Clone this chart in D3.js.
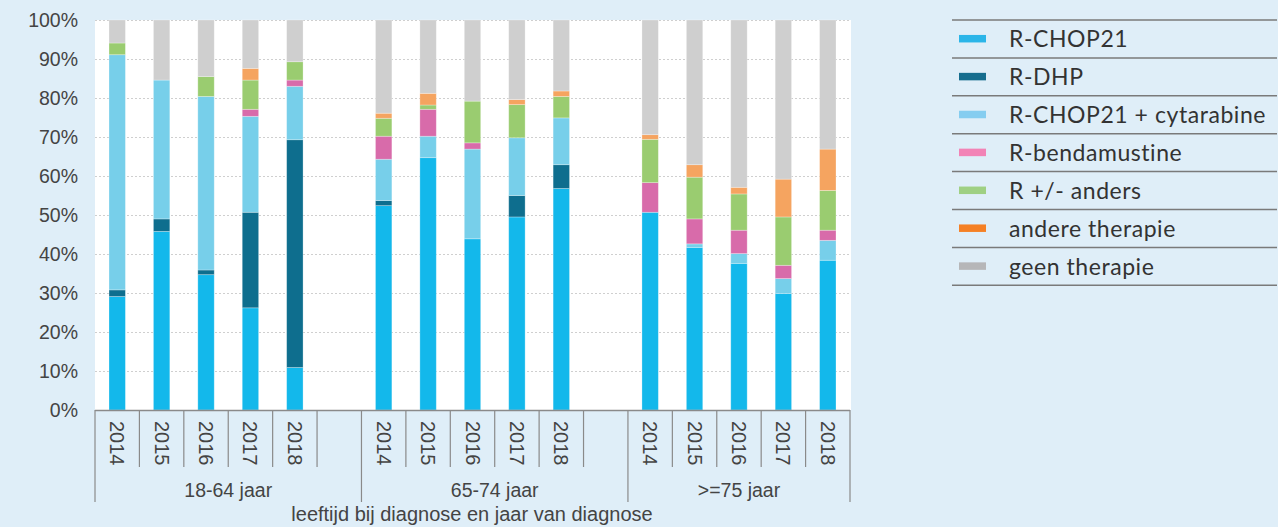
<!DOCTYPE html>
<html>
<head>
<meta charset="utf-8">
<script src="https://cdn.jsdelivr.net/npm/d3@7"></script>
<style>
  html, body { margin: 0; padding: 0; background: #dfeef8; }
  svg { display: block; }
</style>
</head>
<body>
<svg id="chart" width="1278" height="527"></svg>
<script>
// Age groups and diagnosis years
const groups = ["18-64 jaar", "65-74 jaar", ">=75 jaar"];
const years = ["2014", "2015", "2016", "2017", "2018"];

// Treatment categories (stack order, bottom to top)
const treatments = ["R-CHOP21", "R-DHP", "R-CHOP21 + cytarabine", "R-bendamustine", "R +/- anders", "andere therapie", "geen therapie"];

// Percentages per bar: 18-64 (2014-2018), 65-74 (2014-2018), >=75 (2014-2018)
const rChop21      = [29.1, 45.8, 34.7, 26.2, 10.9,  52.4, 64.7, 43.9, 49.5, 56.8,  50.7, 41.7, 37.6, 29.9, 38.4];
const rDhp         = [ 1.7,  3.2,  1.2, 24.5, 58.4,   1.3,  0.0,  0.0,  5.5,  6.1,   0.0,  0.0,  0.0,  0.0,  0.0];
const rChopCytara  = [60.3, 35.6, 44.5, 24.6, 13.7,  10.6,  5.5, 23.0, 14.8, 12.0,   0.0,  0.9,  2.5,  3.8,  5.1];
const rBendamust   = [ 0.0,  0.0,  0.0,  1.8,  1.6,   5.9,  6.9,  1.6,  0.0,  0.0,   7.6,  6.4,  6.0,  3.4,  2.6];
const rAnders      = [ 3.0,  0.0,  5.1,  7.5,  4.7,   4.6,  1.1, 10.7,  8.5,  5.5,  11.1, 10.7,  9.3, 12.4, 10.2];
const andereTher   = [ 0.0,  0.0,  0.0,  3.0,  0.0,   1.3,  3.0,  0.0,  1.3,  1.4,   1.2,  3.2,  1.7,  9.7, 10.6];
const geenTher     = [ 5.9, 15.4, 14.5, 12.4, 10.7,  23.9, 18.8, 20.8, 20.4, 18.2,  29.4, 37.1, 42.9, 40.8, 33.1];

const yTicks = [0, 10, 20, 30, 40, 50, 60, 70, 80, 90, 100];

const seriesValues = [rChop21, rDhp, rChopCytara, rBendamust, rAnders, andereTher, geenTher];
const barColors    = ["#13b8eb", "#0e6e8e", "#77cfea", "#d86baa", "#9acc70", "#f5a460", "#cfcfcf"];
const legendColors = ["#2bb5e8", "#166d8e", "#85cdf0", "#f283b6", "#9fd083", "#f58025", "#b6b6b8"];

// Build rows: one per bar
const rows = [];
groups.forEach((g, gi) => {
  years.forEach((y, yi) => {
    const i = gi * years.length + yi;
    const row = { key: g + "|" + y, group: g, year: y };
    treatments.forEach((t, ti) => { row[t] = seriesValues[ti][i]; });
    rows.push(row);
  });
});

// Band slots: every year plus an empty spacer slot after the first two groups
const slots = [];
groups.forEach((g, gi) => {
  years.forEach(y => slots.push(g + "|" + y));
  if (gi < groups.length - 1) slots.push("spacer" + gi);
});

const svg = d3.select("#chart");
const plot = { left: 95, right: 851, top: 20, bottom: 410 };

const x = d3.scaleBand().domain(slots).range([plot.left, 850]).padding(0);
const y = d3.scaleLinear().domain([0, 100]).range([plot.bottom, plot.top]);
const barW = 16.4;
const axisFont = "Liberation Sans, Arial, sans-serif";

// Plot background
svg.append("rect")
  .attr("x", plot.left).attr("y", plot.top)
  .attr("width", plot.right - plot.left).attr("height", plot.bottom - plot.top)
  .attr("fill", "#ffffff");

// Gridlines
svg.append("g")
  .selectAll("line")
  .data(yTicks.filter(d => d > 0))
  .join("line")
  .attr("x1", plot.left).attr("x2", plot.right)
  .attr("y1", d => y(d) + 0.5).attr("y2", d => y(d) + 0.5)
  .attr("stroke", "#cfcfcf")
  .attr("stroke-width", 1)
  .attr("stroke-dasharray", "2,2");

// Y axis labels
const yAxis = d3.axisLeft(y).tickValues(yTicks).tickFormat(d => d + "%").tickSize(0).tickPadding(0);
const yG = svg.append("g").attr("transform", `translate(${78},0)`).call(yAxis);
yG.select(".domain").remove();
yG.selectAll("text")
  .attr("font-family", axisFont)
  .attr("font-size", 19.5)
  .attr("fill", "#444");

// Stacked bars
const stack = d3.stack().keys(treatments);
const stacked = stack(rows);

svg.append("g")
  .selectAll("g")
  .data(stacked)
  .join("g")
  .attr("fill", (d, i) => barColors[i])
  .selectAll("rect")
  .data(d => d.filter(s => s[1] - s[0] > 0))
  .join("rect")
  .attr("x", d => x(d.data.key) + x.bandwidth() / 2 - barW / 2)
  .attr("width", barW)
  .attr("y", d => y(d[1]))
  .attr("height", d => y(d[0]) - y(d[1]))
  .attr("stroke", "rgba(255,255,255,0.35)")
  .attr("stroke-width", 0.8);

// X axis baseline and slot ticks
const axisColor = "#8a8a8a";
const axisG = svg.append("g");
axisG.append("line")
  .attr("x1", plot.left).attr("x2", 850)
  .attr("y1", plot.bottom + 0.5).attr("y2", plot.bottom + 0.5)
  .attr("stroke", axisColor).attr("stroke-width", 1.5);

const boundaries = d3.range(slots.length + 1);
const groupStarts = [0, 6, 12, 17];
axisG.selectAll("line.tick")
  .data(boundaries)
  .join("line")
  .attr("class", "tick")
  .attr("x1", i => plot.left + i * x.step())
  .attr("x2", i => plot.left + i * x.step())
  .attr("y1", plot.bottom)
  .attr("y2", i => groupStarts.includes(i) ? 502 : 467)
  .attr("stroke", axisColor)
  .attr("stroke-width", 1.2);

// Year labels, rotated to read top to bottom
axisG.selectAll("text.year")
  .data(rows)
  .join("text")
  .attr("class", "year")
  .attr("transform", d => `translate(${x(d.key) + x.bandwidth() / 2},${421}) rotate(90)`)
  .attr("dominant-baseline", "central")
  .attr("text-anchor", "start")
  .attr("font-family", axisFont)
  .attr("font-size", 20)
  .attr("fill", "#444")
  .text(d => d.year);

// Group labels
axisG.selectAll("text.group")
  .data(groups)
  .join("text")
  .attr("class", "group")
  .attr("x", (g, gi) => plot.left + (groupStarts[gi] + groupStarts[gi + 1]) / 2 * x.step())
  .attr("y", 497)
  .attr("text-anchor", "middle")
  .attr("font-family", axisFont)
  .attr("font-size", 19.5)
  .attr("fill", "#444")
  .text(g => g);

// Axis title
svg.append("text")
  .attr("x", 472)
  .attr("y", 521)
  .attr("text-anchor", "middle")
  .attr("font-family", axisFont)
  .attr("font-size", 20)
  .attr("fill", "#444")
  .text("leeftijd bij diagnose en jaar van diagnose");

// Legend
const legend = svg.append("g");
const rowH = 37.9;
const legTop = 20;
legend.selectAll("line")
  .data(d3.range(treatments.length + 1))
  .join("line")
  .attr("x1", 952).attr("x2", 1277)
  .attr("y1", i => legTop + i * rowH).attr("y2", i => legTop + i * rowH)
  .attr("stroke", "#7a7a7a").attr("stroke-width", 1.5);

const items = legend.selectAll("g.item")
  .data(treatments)
  .join("g")
  .attr("class", "item")
  .attr("transform", (d, i) => `translate(0,${legTop + i * rowH + rowH / 2})`);

items.append("rect")
  .attr("x", 959).attr("y", -4)
  .attr("width", 27).attr("height", 7.5)
  .attr("fill", (d, i) => legendColors[i]);

items.append("text")
  .attr("x", 1009)
  .attr("y", 8.5)
  .attr("font-family", "Lato, 'Noto Sans', sans-serif")
  .attr("font-size", 23)
  .attr("letter-spacing", 0.55)
  .attr("fill", "#333")
  .text(d => d);
</script>
</body>
</html>
